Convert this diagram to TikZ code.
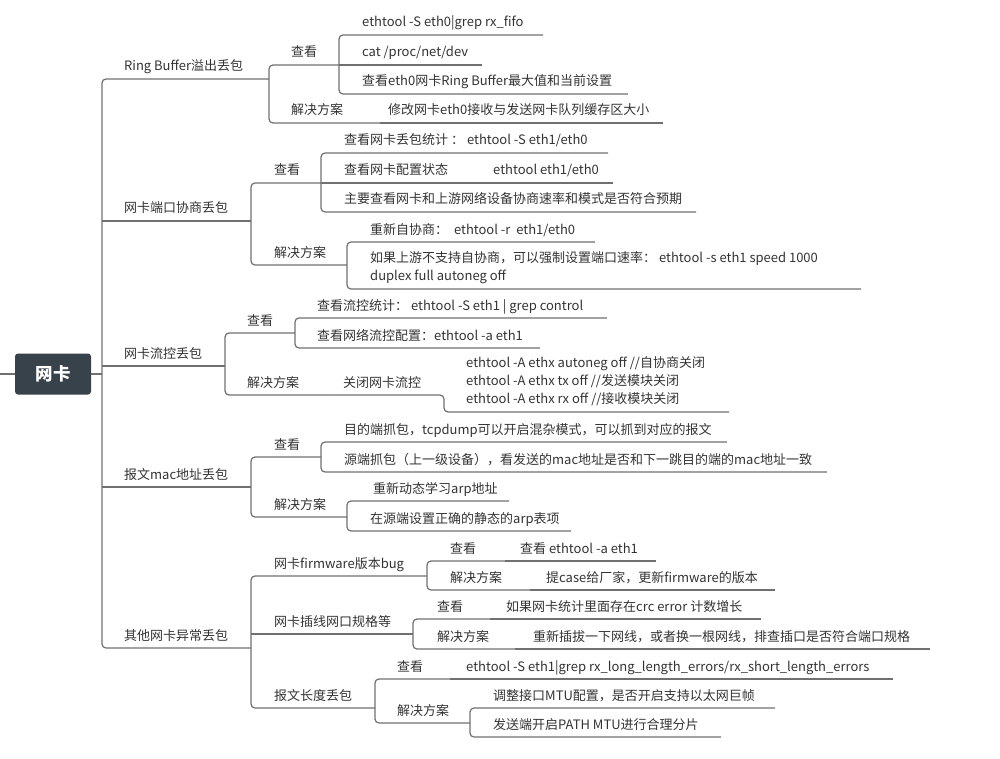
\documentclass[tikz,border=0pt]{standalone}
\usepackage{fontspec}
\setmainfont{Noto Sans CJK SC}
\definecolor{linegray}{HTML}{707070}
\definecolor{txtgray}{HTML}{333333}
\definecolor{rootfill}{HTML}{37424A}
\tikzset{
  lbl/.style={anchor=base west, inner sep=0pt, text=txtgray, font=\fontsize{13}{18}\selectfont},
  lblm/.style={lbl, align=left, anchor=south west, text depth=0pt},
  link/.style={draw=linegray, line width=1.2pt, rounded corners=4pt},
  rootbox/.style={fill=rootfill, rounded corners=3pt, text=white, inner sep=0pt,
    minimum width=76pt, minimum height=41pt, font=\fontsize{17.5}{20}\selectfont\bfseries}
}
% topic: name, text x, underline end x, underline y, text
\newcommand\mmtopic[5]{\node[lbl] (#1) at (#2,#4-8) {#5}; \coordinate (#1e) at (#3,#4);}
\newcommand\mmtopicm[5]{\node[lblm] (#1) at (#2,#4-8) {#5}; \coordinate (#1e) at (#3,#4);}
% bracket: parent, top child, bottom child
\newcommand\mmbranch[3]{\draw[link] (#2e) -- (#1e |- #2e) -- (#1e |- #3e) -- (#3e);}
% straight link: parent, child
\newcommand\mmline[2]{\draw[link] (#1e |- #2e) -- (#2e);}
\begin{document}
\begin{tikzpicture}[x=1pt,y=-1pt]
  \useasboundingbox (0,0) rectangle (1000,759);
  \node[rootbox] (R) at (53,374) {网卡};
  \coordinate (Re) at (102,374);
  \coordinate (L0) at (0,374);
  % level 1
  \mmtopic{A1}{124}{269}{79}{Ring Buffer溢出丢包}
  \mmtopic{A2}{124}{251}{221}{网卡端口协商丢包}
  \mmtopic{A3}{124}{225}{366}{网卡流控丢包}
  \mmtopic{A4}{124}{251}{487}{报文mac地址丢包}
  \mmtopic{A5}{124}{251}{648}{其他网卡异常丢包}
  % Ring Buffer
  \mmtopic{A11}{291}{339}{65}{查看}
  \mmtopic{A12}{291}{380}{123}{解决方案}
  \mmtopic{A111}{362}{543}{35}{ethtool -S eth0|grep rx\_fifo}
  \mmtopic{A112}{362}{482}{65}{cat /proc/net/dev}
  \mmtopic{A113}{362}{628}{94}{查看eth0网卡Ring Buffer最大值和当前设置}
  \mmtopic{A121}{388}{663}{123}{修改网卡eth0接收与发送网卡队列缓存区大小}
  % port negotiation
  \mmtopic{A21}{274}{321}{183}{查看}
  \mmtopic{A22}{274}{347}{265}{解决方案}
  \mmtopic{A211}{344}{608}{153}{查看网卡丢包统计 ： ethtool -S eth1/eth0}
  \mmtopic{A212}{344}{613}{183}{查看网卡配置状态\hspace{45pt}ethtool eth1/eth0}
  \mmtopic{A213}{344}{696}{212}{主要查看网卡和上游网络设备协商速率和模式是否符合预期}
  \mmtopic{A221}{370}{595}{242}{重新自协商：\ \ ethtool -r\ \ eth1/eth0}
  \mmtopicm{A222}{370}{861}{289}{如果上游不支持自协商，可以强制设置端口速率： ethtool -s eth1 speed 1000\\duplex full autoneg off}
  % flow control
  \mmtopic{A31}{247}{295}{333}{查看}
  \mmtopic{A32}{247}{330}{395}{解决方案}
  \mmtopic{A311}{317}{607}{318}{查看流控统计： ethtool -S eth1 | grep control}
  \mmtopic{A312}{317}{540}{348}{查看网络流控配置：ethtool -a eth1}
  \mmtopic{A321}{343}{444}{395}{关闭网卡流控}
  \mmtopicm{A3211}{466}{729}{412}{ethtool -A ethx autoneg off //自协商关闭\\ethtool -A ethx tx off //发送模块关闭\\ethtool -A ethx rx off //接收模块关闭}
  % mac address
  \mmtopic{A41}{274}{321}{457}{查看}
  \mmtopic{A42}{274}{347}{517}{解决方案}
  \mmtopic{A411}{344}{727}{442}{目的端抓包，tcpdump可以开启混杂模式，可以抓到对应的报文}
  \mmtopic{A412}{344}{827}{472}{源端抓包（上一级设备），看发送的mac地址是否和下一跳目的端的mac地址一致}
  \mmtopic{A421}{373}{509}{501}{重新动态学习arp地址}
  \mmtopic{A422}{370}{571}{531}{在源端设置正确的静态的arp表项}
  % others
  \mmtopic{A51}{274}{427}{576}{网卡firmware版本bug}
  \mmtopic{A52}{274}{413}{634}{网卡插线网口规格等}
  \mmtopic{A53}{274}{375}{708}{报文长度丢包}
  \mmtopic{A511}{450}{505}{561}{查看}
  \mmtopic{A512}{450}{530}{590}{解决方案}
  \mmtopic{A5111}{520}{656}{561}{查看 ethtool -a eth1}
  \mmtopic{A5121}{546}{775}{590}{提case给厂家，更新firmware的版本}
  \mmtopic{A521}{437}{490}{619}{查看}
  \mmtopic{A522}{437}{515}{649}{解决方案}
  \mmtopic{A5211}{506}{761}{619}{如果网卡统计里面存在crc error 计数增长}
  \mmtopic{A5221}{533}{930}{649}{重新插拔一下网线，或者换一根网线，排查插口是否符合端口规格}
  \mmtopic{A531}{397}{450}{679}{查看}
  \mmtopic{A532}{397}{470}{723}{解决方案}
  \mmtopic{A5311}{466}{893}{679}{ethtool -S eth1|grep rx\_long\_length\_errors/rx\_short\_length\_errors}
  \mmtopic{A5321}{493}{775}{708}{调整接口MTU配置，是否开启支持以太网巨帧}
  \mmtopic{A5322}{493}{721}{737}{发送端开启PATH MTU进行合理分片}
  % connectors
  \draw[link] (L0) -- (R.west);
  \draw[link] (R.east) -- (Re);
  \mmbranch{R}{A1}{A5} \mmline{R}{A2} \mmline{R}{A3} \mmline{R}{A4}
  \mmbranch{A1}{A11}{A12}
  \mmbranch{A11}{A111}{A113} \mmline{A11}{A112}
  \mmline{A12}{A121}
  \mmbranch{A2}{A21}{A22}
  \mmbranch{A21}{A211}{A213} \mmline{A21}{A212}
  \mmbranch{A22}{A221}{A222}
  \mmbranch{A3}{A31}{A32}
  \mmbranch{A31}{A311}{A312}
  \draw[link] (A32e |- A321e) -- (A321e) -- (A321e |- A3211e) -- (A3211e);
  \mmbranch{A4}{A41}{A42}
  \mmbranch{A41}{A411}{A412}
  \mmbranch{A42}{A421}{A422}
  \mmbranch{A5}{A51}{A53} \mmline{A5}{A52}
  \mmbranch{A51}{A511}{A512}
  \mmline{A511}{A5111} \mmline{A512}{A5121}
  \mmbranch{A52}{A521}{A522}
  \mmline{A521}{A5211} \mmline{A522}{A5221}
  \mmbranch{A53}{A531}{A532}
  \mmline{A531}{A5311}
  \mmbranch{A532}{A5321}{A5322}
\end{tikzpicture}
\end{document}
